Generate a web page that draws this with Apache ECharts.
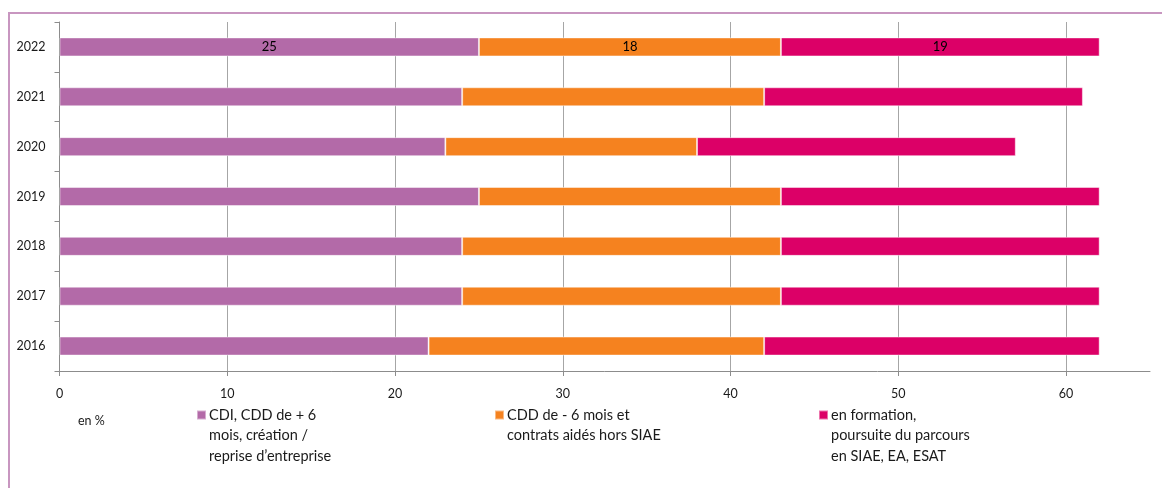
<!DOCTYPE html>
<html>
<head>
<meta charset="utf-8">
<script src="https://cdn.jsdelivr.net/npm/echarts@6/dist/echarts.min.js"></script>
<style>
  html, body { margin: 0; padding: 0; background: #ffffff; }
  #chart { width: 1162px; height: 488px; }
</style>
</head>
<body>
<div id="chart"></div>
<script>
// Years, bottom to top
const years = ['2016', '2017', '2018', '2019', '2020', '2021', '2022'];

// Share of leavers by situation, in %
const cdiValues = [22, 24, 24, 25, 23, 24, 25];
const cddValues = [20, 19, 19, 18, 15, 18, 18];
const formationValues = [20, 19, 19, 19, 19, 19, 19];

const seriesNames = [
  'CDI, CDD de + 6\nmois, création /\nreprise d\u2019entreprise',
  'CDD de - 6 mois et\ncontrats aidés hors SIAE',
  'en formation,\npoursuite du parcours\nen SIAE, EA, ESAT'
];
const seriesColors = ['#B36AA8', '#F5821F', '#DC0067'];
const seriesValues = [cdiValues, cddValues, formationValues];

// Only the latest year carries value labels
const labelledYear = '2022';

const FONT = 'Lato, "Open Sans", sans-serif';

const chart = echarts.init(document.getElementById('chart'), null, { renderer: 'canvas' });

const series = seriesNames.map((name, i) => ({
  name: name,
  type: 'bar',
  stack: 'total',
  barWidth: 19,
  data: seriesValues[i].map((v, j) => ({
    value: v,
    label: { show: years[j] === labelledYear }
  })),
  itemStyle: {
    color: seriesColors[i],
    borderColor: 'rgba(255,255,255,0.45)',
    borderWidth: 1
  },
  label: {
    position: 'inside',
    color: '#000000',
    fontFamily: FONT,
    fontSize: 13
  },
  emphasis: { disabled: true }
}));

// One legend block per series; the text wraps over several lines and the
// square sits level with the first line (a tall icon box with the square at its top)
const legendLefts = [196, 494, 818];
const LH = 20.5;
const SQ = 9;
const SQ_TOP = 410.5;
const legends = seriesNames.map((name, i) => {
  const lines = name.split('\n').length;
  const h = SQ + (lines - 1) * LH;
  return {
    data: [name],
    left: legendLefts[i],
    top: SQ_TOP - Math.max(0, (lines * LH - h) / 2),
    orient: 'vertical',
    padding: 0,
    itemWidth: SQ,
    itemHeight: h,
    itemGap: 0,
    icon: 'path://M0,0h' + SQ + 'v' + SQ + 'h-' + SQ + 'z M0,' + (h - 0.01) + 'h0.01v0.01h-0.01z',
    symbolKeepAspect: false,
    selectedMode: false,
    textStyle: {
      fontFamily: FONT,
      fontSize: 14.5,
      color: '#1a1a1a',
      lineHeight: LH,
      padding: [0, 0, 0, -2]
    }
  };
});

chart.setOption({
  animation: false,
  backgroundColor: '#ffffff',
  grid: { left: 59.5, right: 12, top: 22, bottom: 117, containLabel: false },
  xAxis: {
    type: 'value',
    min: 0,
    max: 65,
    interval: 10,
    axisLine: { show: true, lineStyle: { color: '#8c8c8c', width: 1 } },
    axisTick: { show: true, length: 5, lineStyle: { color: '#8c8c8c' } },
    axisLabel: {
      showMaxLabel: false,
      margin: 16,
      color: '#1a1a1a',
      fontFamily: FONT,
      fontSize: 12.5
    },
    splitLine: {
      show: true,
      showMinLine: false,
      showMaxLine: false,
      lineStyle: { color: '#a6a6a6', width: 1 }
    }
  },
  yAxis: {
    type: 'category',
    data: years,
    axisLine: { show: true, lineStyle: { color: '#8c8c8c', width: 1 } },
    axisTick: { show: true, length: 5, lineStyle: { color: '#8c8c8c' } },
    axisLabel: {
      margin: 14,
      color: '#1a1a1a',
      fontFamily: FONT,
      fontSize: 12.5
    },
    splitLine: { show: false }
  },
  legend: legends,
  series: series,
  graphic: [
    {
      type: 'polyline',
      silent: true,
      shape: { points: [[9, 488], [9, 13], [1162, 13]] },
      style: { stroke: '#C896C0', lineWidth: 2, fill: null }
    },
    {
      type: 'text',
      left: 78,
      top: 414,
      silent: true,
      style: { text: 'en %', fontFamily: FONT, fontSize: 12.5, fill: '#1a1a1a' }
    }
  ]
});
</script>
</body>
</html>
